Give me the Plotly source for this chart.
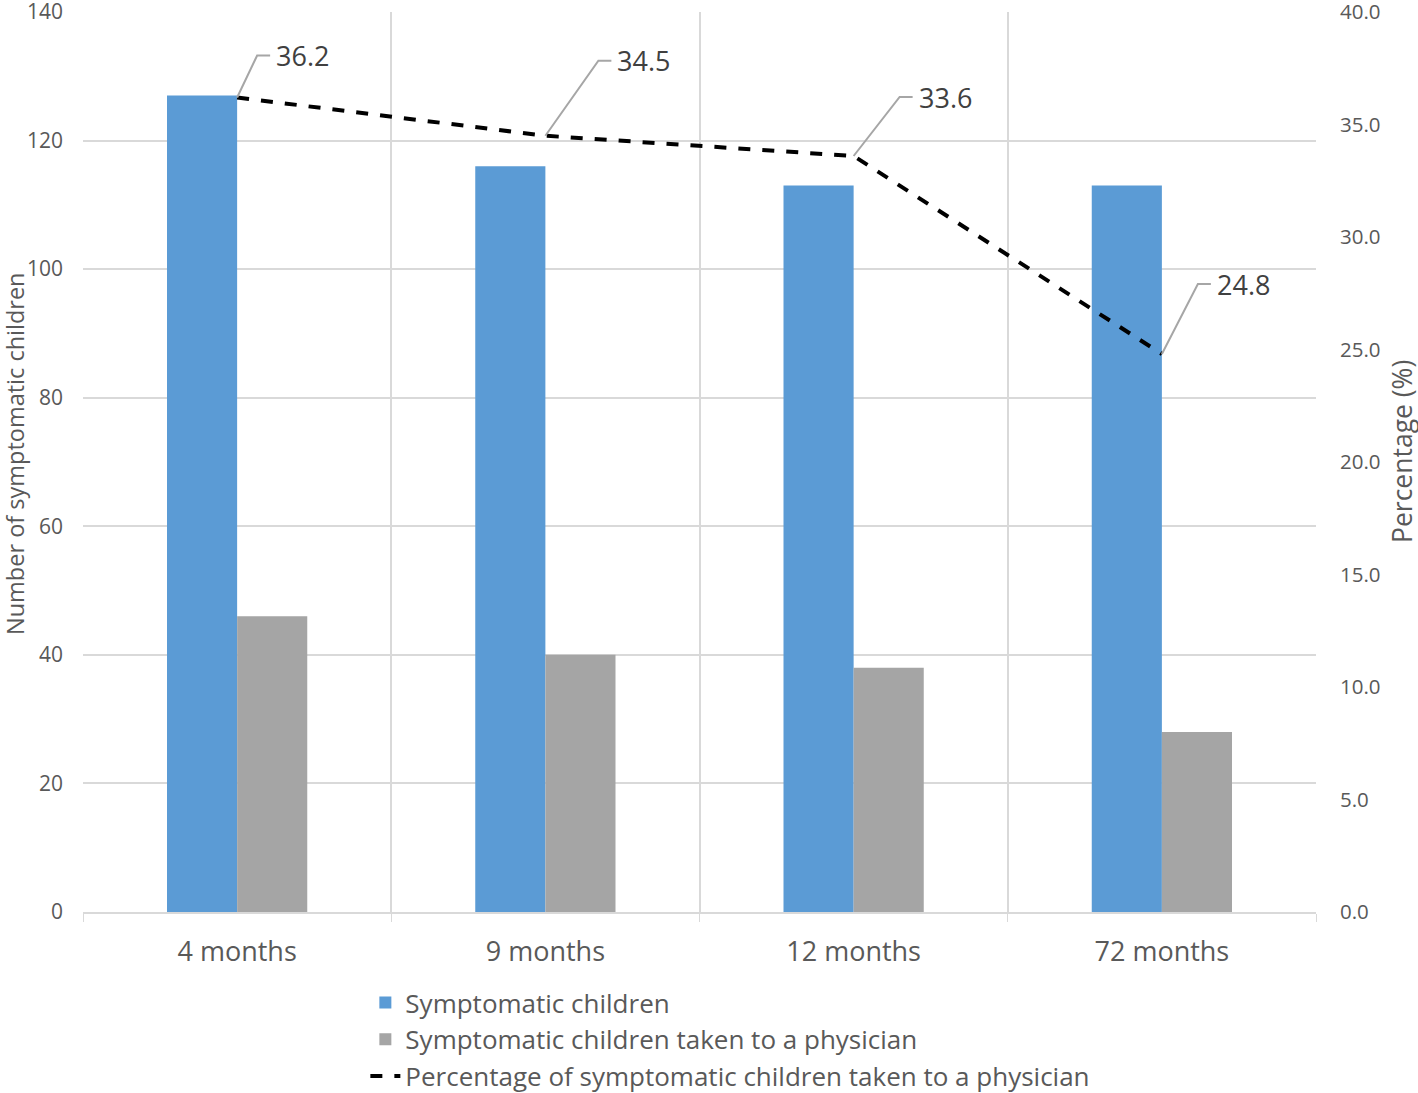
import plotly.graph_objects as go

categories = ["4 months", "9 months", "12 months", "72 months"]
symptomatic = [127, 116, 113, 113]
to_physician = [46, 40, 38, 28]
percentage = [36.2, 34.5, 33.6, 24.8]
pct_labels = ["36.2", "34.5", "33.6", "24.8"]
left_ticks = [0, 20, 40, 60, 80, 100, 120, 140]
right_ticks = [0, 5, 10, 15, 20, 25, 30, 35, 40]
left_title = "Number of symptomatic children"
right_title = "Percentage (%)"

# leader-line pixel offsets (diagonal end dx, dy; positive dy = up)
leader_dx = [20, 53, 46, 36]
leader_dy = [42, 75, 59, 70]
hook = 13

FONT = "Open Sans"
TXT = "#595959"
GRID = "#d9d9d9"

fig = go.Figure()
fig.add_trace(go.Bar(x=categories, y=symptomatic, name="Symptomatic children",
                     marker=dict(color="#5B9BD5", line=dict(width=0)),
                     legendgroup="a"))
fig.add_trace(go.Bar(x=categories, y=to_physician, name="Symptomatic children taken to a physician",
                     marker=dict(color="#A5A5A5", line=dict(width=0)),
                     legendgroup="b"))
fig.add_trace(go.Scatter(x=categories, y=percentage, yaxis="y2", mode="lines",
                         name="Percentage of symptomatic children taken to a physician",
                         line=dict(color="black", width=4, dash="dash"),
                         legendgroup="c"))

for i, (v, lab) in enumerate(zip(percentage, pct_labels)):
    dx, dy = leader_dx[i], leader_dy[i]
    fig.add_shape(type="path", xref="x", yref="y2", xsizemode="pixel", ysizemode="pixel",
                  xanchor=i, yanchor=v,
                  path=f"M 0 0 L {dx} {dy} L {dx + hook} {dy}",
                  line=dict(color="#a6a6a6", width=2))
    fig.add_annotation(x=i, y=v, xref="x", yref="y2", text=lab, showarrow=False,
                       xanchor="left", yanchor="middle", xshift=dx + hook + 4, yshift=dy,
                       font=dict(family=FONT, size=27, color="#404040"))

# axis titles
fig.add_annotation(x=0, y=0.5, xref="paper", yref="paper", text=left_title, showarrow=False,
                   textangle=-90, xanchor="center", yanchor="middle", xshift=-68, yshift=8,
                   font=dict(family=FONT, size=23.5, color=TXT))
fig.add_annotation(x=1, y=0.5, xref="paper", yref="paper", text=right_title, showarrow=False,
                   textangle=-90, xanchor="center", yanchor="middle", xshift=86, yshift=10,
                   font=dict(family=FONT, size=26.5, color=TXT))

fig.update_layout(
    width=1418, height=1093,
    margin=dict(l=83, r=102, t=12, b=181, autoexpand=False),
    paper_bgcolor="white", plot_bgcolor="white",
    barmode="group", bargap=0.545, bargroupgap=0,
    font=dict(family=FONT, color=TXT),
    xaxis=dict(tickson="boundaries", ticks="outside", ticklen=8, tickcolor=GRID,
               showgrid=True, gridcolor=GRID, gridwidth=2, automargin=False,
               showline=True, linecolor=GRID, linewidth=2,
               tickfont=dict(family=FONT, size=27, color=TXT), ticklabelstandoff=15),
    yaxis=dict(range=[0, 140], tickvals=left_ticks, showgrid=True, gridcolor=GRID, gridwidth=2,
               zeroline=False, showline=False, ticks="", automargin=False,
               ticklabeloverflow="allow",
               tickfont=dict(family=FONT, size=21, color=TXT), ticklabelstandoff=19),
    yaxis2=dict(range=[0, 40], tickvals=right_ticks, tickformat=".1f", overlaying="y", side="right",
                showgrid=False, zeroline=False, showline=False, ticks="", automargin=False,
                ticklabeloverflow="allow",
                tickfont=dict(family=FONT, size=20.5, color=TXT), ticklabelstandoff=23),
    legend=dict(orientation="v", x=0.229, xanchor="left", y=-0.0745, yanchor="top",
                font=dict(family=FONT, size=26, color=TXT), tracegroupgap=0,
                bgcolor="rgba(0,0,0,0)"),
)

fig.write_html("out.html", config={"displayModeBar": False},
               post_script="document.body.style.margin='0';document.body.style.overflow='hidden';")
